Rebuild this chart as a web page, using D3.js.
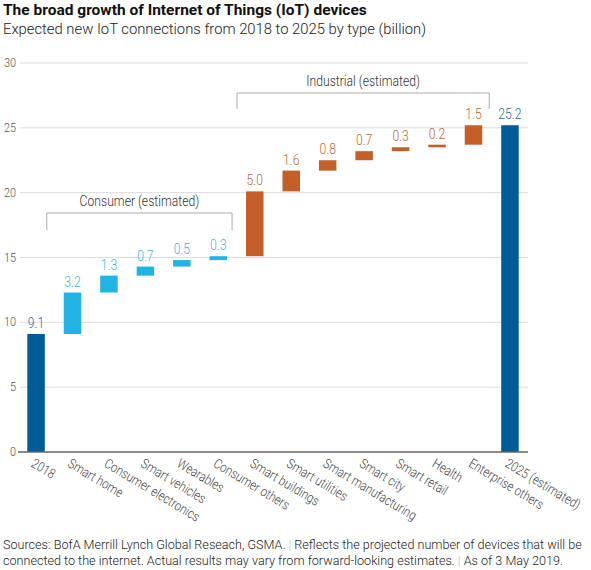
<!DOCTYPE html>
<html>
<head>
<meta charset="utf-8">
<script src="https://cdn.jsdelivr.net/npm/d3@7"></script>
<style>
  body { margin: 0; background: #fff; }
  svg { display: block; }
  text { font-family: Roboto, "Open Sans", sans-serif; }
</style>
</head>
<body>
<svg id="chart" width="591" height="570"></svg>
<script>
// ----------- DATA -----------
const categories = ["2018", "Smart home", "Consumer electronics", "Smart vehicles", "Wearables",
  "Consumer others", "Smart buildings", "Smart utilities", "Smart manufacturing", "Smart city",
  "Smart retail", "Health", "Enterprise others", "2025 (estimated)"];
const changes = [9.1, 3.2, 1.3, 0.7, 0.5, 0.3, 5.0, 1.6, 0.8, 0.7, 0.3, 0.2, 1.5, 25.2];
const groups = ["total", "consumer", "consumer", "consumer", "consumer", "consumer",
  "industrial", "industrial", "industrial", "industrial", "industrial", "industrial", "industrial", "total"];
const yTicks = [0, 5, 10, 15, 20, 25, 30];
const brackets = [
  { label: "Consumer (estimated)", from: "Smart home", to: "Consumer others" },
  { label: "Industrial (estimated)", from: "Smart buildings", to: "Enterprise others" }
];

const barColor = { total: "#005c97", consumer: "#20b4e3", industrial: "#c45f28" };
const labelColor = { total: "#2a6a9e", consumer: "#33b8e3", industrial: "#c0662f" };

// condensed look: squeeze text horizontally
const SQ = 0.84;

// ----------- LAYOUT -----------
const svg = d3.select("#chart");

const x = d3.scaleBand().domain(categories).range([18, 528]).paddingInner(0.52).paddingOuter(0.255);
const y = d3.scaleLinear().domain([0, 30]).range([452, 63]);

// running totals for the waterfall
let run = 0;
const bars = categories.map((c, i) => {
  let lo, hi;
  if (groups[i] === "total") { lo = 0; hi = changes[i]; run = changes[i]; }
  else { lo = run; hi = run + changes[i]; run = hi; }
  return { cat: c, lo: lo, hi: hi, val: changes[i], group: groups[i] };
});

// title
svg.append("text").attr("x", 3).attr("y", 15)
  .attr("font-weight", "bold").attr("font-size", 15.5)
  .attr("fill", "#111").text("The broad growth of Internet of Things (IoT) devices");
svg.append("text").attr("x", 3).attr("y", 34)
  .attr("font-size", 14.8).attr("font-weight", 300)
  .attr("fill", "#222").text("Expected new IoT connections from 2018 to 2025 by type (billion)");

// grid + y labels
svg.append("g").selectAll("line").data(yTicks.filter(d => d > 0)).enter()
  .append("line")
  .attr("x1", 20).attr("x2", 528)
  .attr("y1", d => y(d)).attr("y2", d => y(d))
  .attr("stroke", "#dcdcdc").attr("stroke-width", 1);

svg.append("g").selectAll("text").data(yTicks).enter()
  .append("text")
  .attr("transform", d => `translate(16,${y(d) + 4}) scale(${SQ},1)`)
  .attr("text-anchor", "end")
  .attr("font-size", 13).attr("font-weight", 300).attr("fill", "#555")
  .text(d => d);

// bars
svg.append("g").selectAll("rect").data(bars).enter()
  .append("rect")
  .attr("x", d => x(d.cat))
  .attr("width", x.bandwidth())
  .attr("y", d => y(d.hi))
  .attr("height", d => Math.max(2, y(d.lo) - y(d.hi)))
  .attr("fill", d => barColor[d.group]);

// value labels
svg.append("g").selectAll("text").data(bars).enter()
  .append("text")
  .attr("transform", d => `translate(${x(d.cat) + x.bandwidth() / 2},${y(d.hi) - 6}) scale(${SQ},1)`)
  .attr("text-anchor", "middle")
  .attr("font-size", 14.5).attr("font-weight", 300).attr("fill", d => labelColor[d.group])
  .text(d => d.val.toFixed(1));

// baseline
svg.append("line")
  .attr("x1", 18).attr("x2", 528)
  .attr("y1", y(0)).attr("y2", y(0))
  .attr("stroke", "#666").attr("stroke-width", 1.5);

// category labels
svg.append("g").selectAll("text").data(categories).enter()
  .append("text")
  .attr("transform", d => `translate(${x(d) + 3},${y(0) + 14}) rotate(31) scale(${SQ},1)`)
  .attr("font-size", 13.5).attr("font-weight", 300).attr("fill", "#444")
  .text(d => d);

// brackets
const bracketPos = [
  { x1: x(brackets[0].from) - 17, x2: x(brackets[0].to) + x.bandwidth() + 5, top: 213, bottom: 230, ty: 206 },
  { x1: x(brackets[1].from) - 9, x2: x(brackets[1].to) + x.bandwidth() + 7, top: 93, bottom: 109, ty: 86 }
];
brackets.forEach((b, i) => {
  const p = bracketPos[i];
  svg.append("path")
    .attr("d", `M${p.x1},${p.bottom}V${p.top}H${p.x2}V${p.bottom}`)
    .attr("fill", "none").attr("stroke", "#aaa").attr("stroke-width", 1);
  svg.append("text")
    .attr("transform", `translate(${(p.x1 + p.x2) / 2},${p.ty}) scale(${SQ},1)`)
    .attr("text-anchor", "middle")
    .attr("font-size", 14.5).attr("font-weight", 300).attr("fill", "#333")
    .text(b.label);
});

// footer
const foot = svg.append("text")
  .attr("font-size", 12.6).attr("font-weight", 300).attr("fill", "#222");
const l1 = foot.append("tspan").attr("x", 3).attr("y", 549);
l1.append("tspan").text("Sources: BofA Merrill Lynch Global Reseach, GSMA.");
l1.append("tspan").attr("fill", "#bbb").text("  |  ");
l1.append("tspan").text("Reflects the projected number of devices that will be");
const l2 = foot.append("tspan").attr("x", 3).attr("y", 565);
l2.append("tspan").text("connected to the internet. Actual results may vary from forward-looking estimates.");
l2.append("tspan").attr("fill", "#bbb").text("  |  ");
l2.append("tspan").text("As of 3 May 2019.");
</script>
</body>
</html>
